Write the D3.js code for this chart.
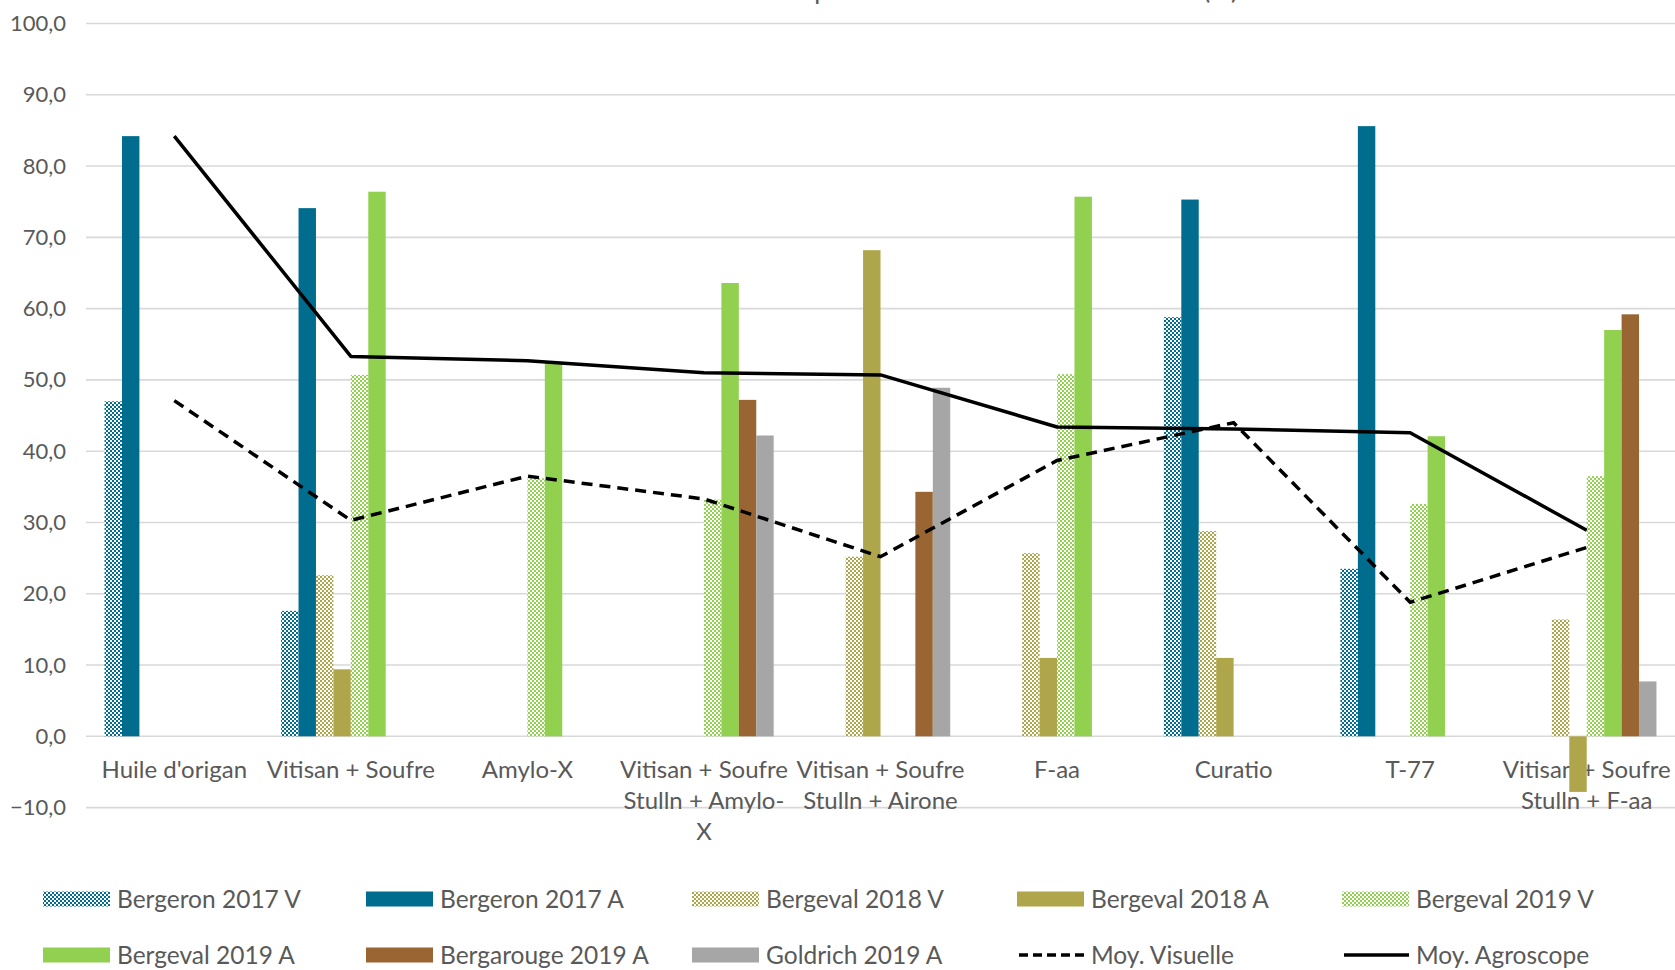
<!DOCTYPE html>
<html>
<head>
<meta charset="utf-8">
<script src="https://cdn.jsdelivr.net/npm/d3@7"></script>
<style>
  html, body { margin: 0; padding: 0; background: #fff; }
  svg { display: block; }
  text { font-family: Lato, "Open Sans", sans-serif; fill: #595959; }
</style>
</head>
<body>
<svg id="chart" width="1675" height="970"></svg>
<script>
// ---------------- DATA ----------------
const categories = [
  "Huile d'origan", "Vitisan + Soufre", "Amylo-X",
  "Vitisan + Soufre Stulln + Amylo-X", "Vitisan + Soufre Stulln + Airone",
  "F-aa", "Curatio", "T-77", "Vitisan + Soufre Stulln + F-aa"
];
const categoryLabelLines = [
  ["Huile d'origan"], ["Vitisan + Soufre"], ["Amylo-X"],
  ["Vitisan + Soufre", "Stulln + Amylo-", "X"], ["Vitisan + Soufre", "Stulln + Airone"],
  ["F-aa"], ["Curatio"], ["T-77"], ["Vitisan + Soufre", "Stulln + F-aa"]
];
const seriesNames = [
  "Bergeron 2017 V", "Bergeron 2017 A", "Bergeval 2018 V", "Bergeval 2018 A",
  "Bergeval 2019 V", "Bergeval 2019 A", "Bergarouge 2019 A", "Goldrich 2019 A"
];
const bergeron2017V   = [47.0, 17.6, null, null, null, null, 58.8, 23.5, null];
const bergeron2017A   = [84.2, 74.1, null, null, null, null, 75.3, 85.6, null];
const bergeval2018V   = [null, 22.6, null, null, 25.2, 25.7, 28.8, null, 16.4];
const bergeval2018A   = [null,  9.4, null, null, 68.2, 11.0, 11.0, null, -7.8];
const bergeval2019V   = [null, 50.7, 36.2, 33.2, null, 50.8, null, 32.6, 36.5];
const bergeval2019A   = [null, 76.4, 52.5, 63.6, null, 75.7, null, 42.1, 57.0];
const bergarouge2019A = [null, null, null, 47.2, 34.3, null, null, null, 59.2];
const goldrich2019A   = [null, null, null, 42.2, 48.9, null, null, null,  7.7];
const moyVisuelle  = [47.1, 30.3, 36.5, 33.3, 25.2, 38.7, 44.0, 18.8, 26.5];
const moyAgroscope = [84.2, 53.3, 52.7, 51.0, 50.7, 43.4, 43.1, 42.6, 28.9];
const yTicks = [-10, 0, 10, 20, 30, 40, 50, 60, 70, 80, 90, 100];
const lineNames = ["Moy. Visuelle", "Moy. Agroscope"];
const titleText = "Efficacité des produits sur l'intensité de l'oïdium (%)";

// ---------------- STYLE ----------------
const seriesValues = [bergeron2017V, bergeron2017A, bergeval2018V, bergeval2018A,
                      bergeval2019V, bergeval2019A, bergarouge2019A, goldrich2019A];
const seriesColors = ["#006d8f", "#006d8f", "#afa64b", "#afa64b",
                      "#92d050", "#92d050", "#996532", "#a6a6a6"];
const seriesHatched = [true, false, true, false, true, false, false, false];

const svg = d3.select("#chart");
const W = 1675, H = 970;

// patterns
const defs = svg.append("defs");
seriesNames.forEach((s, i) => {
  if (!seriesHatched[i]) return;
  const p = defs.append("pattern").attr("id", "pat" + i)
    .attr("patternUnits", "userSpaceOnUse").attr("width", 4).attr("height", 4);
  p.append("rect").attr("width", 4).attr("height", 4).attr("fill", "#fff");
  p.append("rect").attr("x", 0).attr("y", 0).attr("width", 2).attr("height", 2).attr("fill", seriesColors[i]);
  p.append("rect").attr("x", 2).attr("y", 2).attr("width", 2).attr("height", 2).attr("fill", seriesColors[i]);
});
const fillOf = i => seriesHatched[i] ? `url(#pat${i})` : seriesColors[i];

// scales
const x = d3.scaleBand().domain(categories).range([86, 1675]).paddingInner(0.21).paddingOuter(0.105);
const xs = d3.scaleBand().domain(seriesNames).range([0, x.bandwidth()]);
const y = d3.scaleLinear().domain([-10, 100]).range([807.6, 23.5]);

// title (cut off at top in the reference)
svg.append("text").attr("x", 1238).attr("y", -1).attr("text-anchor", "end")
  .style("font-size", "26px").text(titleText);

// gridlines
svg.append("g").selectAll("line").data(yTicks).join("line")
  .attr("x1", 86).attr("x2", W).attr("y1", d => y(d)).attr("y2", d => y(d))
  .attr("stroke", "#d9d9d9").attr("stroke-width", 1.6);

// y axis labels
const yAxis = d3.axisLeft(y).tickValues(yTicks)
  .tickFormat(d => d3.format(".1f")(d).replace(".", ",")).tickSize(0).tickPadding(0);
const gy = svg.append("g").attr("transform", "translate(66,0)").call(yAxis);
gy.select(".domain").remove();
gy.selectAll("text").style("font-size", "22px").style("font-family", "Lato, sans-serif").attr("fill", "#595959");

// category labels
const xAxis = d3.axisBottom(x).tickSize(0).tickFormat("");
const gx = svg.append("g").attr("transform", `translate(0,${y(0)})`).call(xAxis);
gx.select(".domain").remove();
gx.selectAll(".tick").each(function(d, i) {
  const t = d3.select(this).append("text").attr("text-anchor", "middle")
    .style("font-size", "24px").attr("fill", "#595959");
  categoryLabelLines[i].forEach((ln, j) => {
    t.append("tspan").attr("x", 0).attr("y", 42 + j * 31).text(ln);
  });
});

// bars
seriesNames.forEach((s, si) => {
  svg.append("g").selectAll("rect")
    .data(seriesValues[si].map((v, ci) => ({ v, c: categories[ci] })).filter(d => d.v !== null))
    .join("rect")
    .attr("x", d => x(d.c) + xs(s))
    .attr("width", xs.bandwidth())
    .attr("y", d => Math.min(y(d.v), y(0)))
    .attr("height", d => Math.abs(y(d.v) - y(0)))
    .attr("fill", fillOf(si));
});

// lines
const cx = c => x(c) + x.bandwidth() / 2;
const lineGen = d3.line().x((d, i) => cx(categories[i])).y(d => y(d));
svg.append("path").datum(moyVisuelle).attr("d", lineGen)
  .attr("fill", "none").attr("stroke", "#000").attr("stroke-width", 3.5)
  .attr("stroke-dasharray", "11,7");
svg.append("path").datum(moyAgroscope).attr("d", lineGen)
  .attr("fill", "none").attr("stroke", "#000").attr("stroke-width", 3.5)
  .attr("stroke-linejoin", "round");

// legend
const legendItems = seriesNames.map((s, i) => ({ name: s, type: "bar", i }))
  .concat(lineNames.map((n, k) => ({ name: n, type: k === 0 ? "dash" : "solid" })));
const colX = [43, 366, 692, 1017, 1342];
const rowY = [899, 955];
const lg = svg.append("g");
legendItems.forEach((it, k) => {
  const lx = colX[k % 5], ly = rowY[Math.floor(k / 5)];
  if (it.type === "bar") {
    lg.append("rect").attr("x", lx).attr("y", ly - 7.5).attr("width", 67).attr("height", 15)
      .attr("fill", fillOf(it.i));
  } else {
    lg.append("line").attr("x1", lx + 2).attr("x2", lx + 67).attr("y1", ly).attr("y2", ly)
      .attr("stroke", "#000").attr("stroke-width", 3.5)
      .attr("stroke-dasharray", it.type === "dash" ? "9,5" : null);
  }
  lg.append("text").attr("x", lx + 74).attr("y", ly).attr("dy", "0.35em")
    .style("font-size", "24.5px").text(it.name);
});
</script>
</body>
</html>
